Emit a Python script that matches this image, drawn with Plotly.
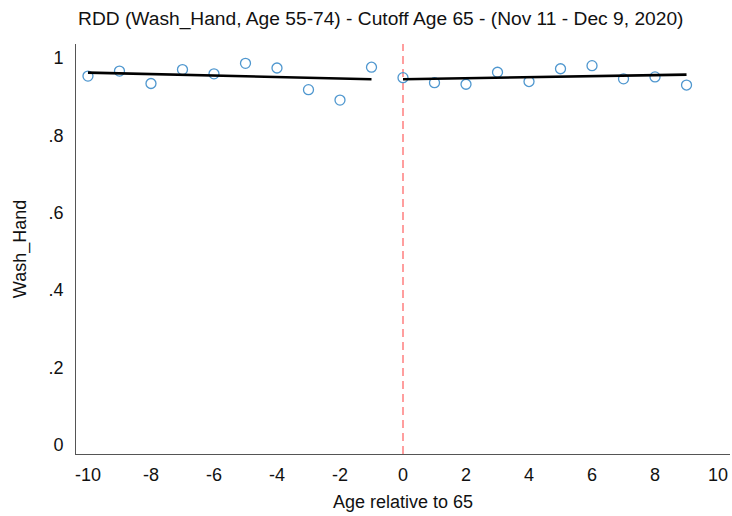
import plotly.graph_objects as go

# Binned means (age relative to 65)
age_left = [-10, -9, -8, -7, -6, -5, -4, -3, -2, -1]
wash_left = [0.953, 0.966, 0.934, 0.970, 0.959, 0.986, 0.974, 0.918, 0.891, 0.976]
age_right = [0, 1, 2, 3, 4, 5, 6, 7, 8, 9]
wash_right = [0.949, 0.936, 0.932, 0.963, 0.939, 0.972, 0.980, 0.946, 0.951, 0.930]

# Linear fits on each side of the cutoff
fit_left_x = [-10, -1]
fit_left_y = [0.962, 0.945]
fit_right_x = [0, 9]
fit_right_y = [0.945, 0.957]

x_ticks = [-10, -8, -6, -4, -2, 0, 2, 4, 6, 8, 10]
x_ticklabels = ["-10", "-8", "-6", "-4", "-2", "0", "2", "4", "6", "8", "10"]
y_ticks = [0, 0.2, 0.4, 0.6, 0.8, 1]
y_ticklabels = ["0", ".2", ".4", ".6", ".8", "1"]

cutoff = 0
FONT = "Liberation Sans, Arial, Helvetica, sans-serif"
marker_color = "#4f97cf"

fig = go.Figure()
fig.add_trace(go.Scatter(
    x=age_left + age_right, y=wash_left + wash_right, mode="markers",
    marker=dict(symbol="circle-open", size=10, color=marker_color,
                line=dict(width=1.3, color=marker_color)),
    showlegend=False, hoverinfo="x+y"))
fig.add_trace(go.Scatter(x=fit_left_x, y=fit_left_y, mode="lines",
                         line=dict(color="black", width=2.6), showlegend=False))
fig.add_trace(go.Scatter(x=fit_right_x, y=fit_right_y, mode="lines",
                         line=dict(color="black", width=2.6), showlegend=False))

fig.add_shape(type="line", x0=cutoff, x1=cutoff, y0=0, y1=1, xref="x", yref="paper",
              line=dict(color="#ff6b6b", width=1.3, dash="8px,5px"), layer="below")

fig.update_layout(
    width=732, height=516,
    margin=dict(l=76, r=2, t=44, b=62, autoexpand=False),
    paper_bgcolor="white", plot_bgcolor="white",
    font=dict(family=FONT, size=18, color="#111111"),
    title=dict(text="RDD (Wash_Hand, Age 55-74) - Cutoff Age 65 - (Nov 11 - Dec 9, 2020)",
               x=0.466, xref="paper", xanchor="center", y=0.965, yanchor="middle",
               font=dict(family=FONT, size=19.2, color="#111111")),
    xaxis=dict(range=[-10.38, 10.38], tickvals=x_ticks, ticktext=x_ticklabels,
               showgrid=False, zeroline=False, showline=True, linecolor="#555555",
               linewidth=1, ticks="", ticklabelstandoff=4, automargin=False,
               tickfont=dict(size=18),
               title=dict(text="Age relative to 65", font=dict(size=18), standoff=11)),
    yaxis=dict(range=[-0.0233, 1.036], tickvals=y_ticks, ticktext=y_ticklabels,
               showgrid=False, zeroline=False, showline=True, linecolor="#555555",
               linewidth=1, ticks="", ticklabelstandoff=8, automargin=False,
               tickfont=dict(size=18),
               title=dict(text="Wash_Hand", font=dict(size=18), standoff=17)),
)

fig.write_html("out.html", config={"displayModeBar": False},
               post_script="document.body.style.margin='0';")
